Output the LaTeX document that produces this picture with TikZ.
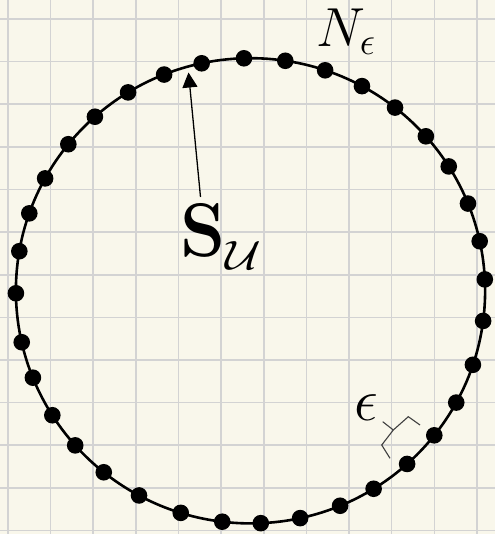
\RequirePackage{fix-cm}
\documentclass[tikz,border=0pt]{standalone}
\usepackage{graphicx}
\usetikzlibrary{arrows.meta}
\definecolor{paper}{RGB}{249,247,235}
\definecolor{gridc}{RGB}{211,211,211}
\begin{document}
\begin{tikzpicture}[x=1pt,y=1pt,
  gridline/.style={draw=gridc, line width=1.6pt},
  ring/.style={draw=black, line width=2.6pt},
  netdot/.style={circle, fill=black, inner sep=0pt, minimum size=16.6pt},
  pointer/.style={draw=black, line width=1.3pt, -{Triangle[length=15pt,width=15pt]}},
  bracestyle/.style={draw=black!75, line width=1.1pt},
  lbl/.style={inner sep=0pt, anchor=base west}]
\fill[paper] (0,0) rectangle (495,534);
\useasboundingbox (0,0) rectangle (495,534);
\foreach \k in {0,...,11} \draw[gridline] ({8+42.63*\k},0) -- ({8+42.63*\k},534);
\foreach \k in {0,...,12} \draw[gridline] (0,{534-19-42.63*\k}) -- (495,{534-19-42.63*\k});
\coordinate (O) at (250.5,243.2);
\draw[ring] (O) ellipse [x radius=234.6pt, y radius=232.6pt];
\foreach \a [count=\i] in {91.6,81.47,71.45,61.63,51.97,41.62,32.32,22.03,12.31,2.81,-7.44,-18.55,-28.72,-38.42,-48.12,-58.34,-67.55,-77.78,-87.49,-96.92,-107.3,-118.37,-128.72,-138.35,-147.65,-158.06,-167.22,-179.39,170.2,160.55,151.1,140.94,131.55,121.46,111.61,102.02}
  \path (O) ++(\a:234.6pt and 232.6pt) node[netdot] (d\i) {};
% labels
\node[lbl] (neps) at (316.5,487.3) {\fontsize{55}{60}\selectfont$N_{\epsilon}$};
\node[lbl] (su) at (180.5,277.5) {\fontsize{76}{80}\selectfont\scalebox{0.95}[1]{$\mathbf{S}$}\raisebox{-13pt}{\scalebox{1.12}[0.93]{\fontsize{44}{48}\selectfont$\mathcal{U}$}}};
\node[lbl] (eps) at (354.4,113) {\fontsize{60}{64}\selectfont$\epsilon$};
% arrow
\coordinate (tail) at (200.5,337);
\coordinate (tip) at (188.5,461.5);
\draw[pointer] (tail) -- (tip);
% brace
\coordinate (bA) at (390,75.7);
\coordinate (bS) at (381.7,89);
\coordinate (bM) at (393.3,104);
\coordinate (bC) at (382.7,112.3);
\coordinate (bT) at (408.3,117.3);
\coordinate (bB) at (420,109);
\draw[bracestyle] (bA) -- (bS) -- (bM) -- (bT) -- (bB);
\draw[bracestyle] (bM) -- (bC);
\end{tikzpicture}
\end{document}
